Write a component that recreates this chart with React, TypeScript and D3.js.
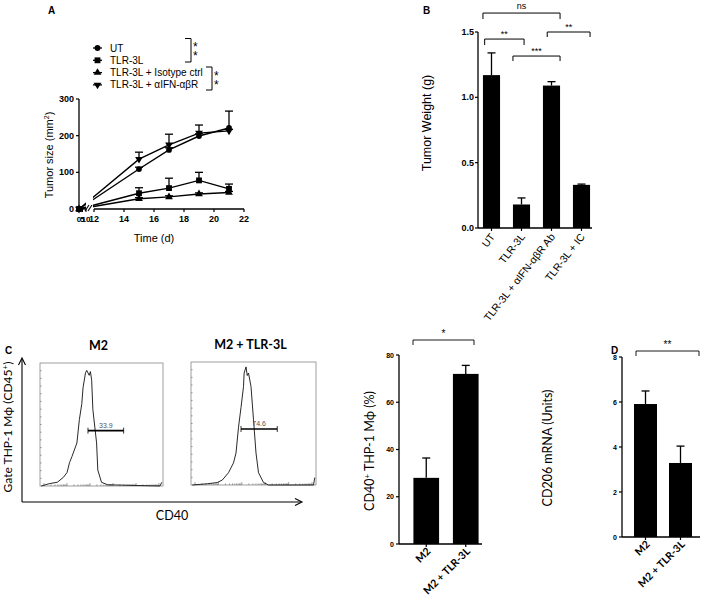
import React from 'react';
import * as d3 from 'd3';

// ---------- Panel A data ----------
const days = [0, 15, 17, 19, 21];
const utMean = [0, 109, 161, 199, 221];
const utErr = [0, 5, 6, 6, 46];
const tlrMean = [0, 43, 57, 78, 55];
const tlrErr = [0, 15, 27, 22, 13];
const isoMean = [0, 28, 33, 41, 45];
const isoErr = [0, 3, 3, 3, 3];
const ifnMean = [0, 136, 175, 207, 213];
const ifnErr = [0, 19, 29, 22, 4];
const seriesNames = ['UT', 'TLR-3L', 'TLR-3L + Isotype ctrl', 'TLR-3L + αIFN-αβR'];
const yTicksA = [0, 100, 200, 300];
const xTicksA1 = [0, 5, 10];
const xTicksA2 = [12, 14, 16, 18, 20, 22];

// ---------- Panel B data ----------
const catsB = ['UT', 'TLR-3L', 'TLR-3L + αIFN-αβR Ab', 'TLR-3L + IC'];
const weightB = [1.17, 0.18, 1.09, 0.33];
const errB = [0.17, 0.05, 0.03, 0.006];
const yTicksB = [0, 0.5, 1.0, 1.5];
const yTickLabelsB = ['0.0', '0.5', '1.0', '1.5'];

// ---------- Panel C histograms ----------
const histM2X = [0.01, 0.08, 0.14, 0.19, 0.22, 0.24, 0.26, 0.30, 0.32, 0.34, 0.35, 0.37, 0.38, 0.40, 0.41, 0.42, 0.43, 0.46, 0.47, 0.50, 0.55, 0.975, 0.99];
const histM2Y = [0, 0.02, 0.03, 0.07, 0.11, 0.19, 0.24, 0.35, 0.54, 0.67, 0.80, 0.92, 0.94, 0.90, 0.93, 0.86, 0.62, 0.35, 0.13, 0.03, 0.01, 0, 0.03];
const histTlrX = [0.01, 0.13, 0.21, 0.25, 0.30, 0.34, 0.36, 0.38, 0.40, 0.42, 0.425, 0.44, 0.45, 0.46, 0.48, 0.50, 0.52, 0.54, 0.58, 0.62, 0.98, 0.99];
const histTlrY = [0, 0.01, 0.02, 0.04, 0.10, 0.18, 0.26, 0.47, 0.63, 0.80, 0.91, 0.96, 0.89, 0.91, 0.80, 0.53, 0.26, 0.10, 0.02, 0, 0, 0.06];
const histTitles = ['M2', 'M2 + TLR-3L'];
const gateLabels = ['33.9', '74.6'];
const gateStart = [0.39, 0.40];
const gateEnd = [0.68, 0.69];
const gateLevel = [0.45, 0.455];

// ---------- Panel C bars ----------
const catsC = ['M2', 'M2 + TLR-3L'];
const cd40 = [28, 72];
const cd40Err = [8.4, 3.6];
const yTicksC = [0, 20, 40, 60, 80];

// ---------- Panel D bars ----------
const cd206 = [5.91, 3.29];
const cd206Err = [0.58, 0.75];
const yTicksD = [0, 2, 4, 6, 8];

const ARIAL = '"Liberation Sans", Arial, sans-serif';
const NARROW = '"Liberation Sans Narrow", "Liberation Sans", Arial, sans-serif';
const CAL = 'Lato, "Open Sans", sans-serif';

function Marker({ kind, x, y }: { kind: number; x: number; y: number }) {
  const types = [d3.symbolCircle, d3.symbolSquare, d3.symbolTriangle, d3.symbolTriangle];
  const sizes = [26, 34, 26, 26];
  const p = d3.symbol().type(types[kind]).size(sizes[kind])() || '';
  const rot = kind === 3 ? 180 : 0;
  return <path d={p} transform={`translate(${x},${y}) rotate(${rot})`} fill="#000" />;
}

function PanelA() {
  const y = d3.scaleLinear().domain([0, 300]).range([209, 99]);
  const xs1 = d3.scaleLinear().domain([0, 10]).range([79, 86]);
  const xs2 = d3.scaleLinear().domain([12, 22]).range([94, 244]);
  const x = (d: number) => (d <= 10 ? xs1(d) : xs2(d));
  const means = [utMean, tlrMean, isoMean, ifnMean];
  const errs = [utErr, tlrErr, isoErr, ifnErr];
  const line = d3.line<number>().x((_, i) => x(days[i])).y((v) => y(v));
  return (
    <g>
      <text x={48} y={14} fontFamily={ARIAL} fontWeight="bold" fontSize={10}>A</text>
      <defs>
        <clipPath id="clipA">
          <rect x={70} y={80} width={16} height={140} />
          <rect x={93} y={80} width={170} height={140} />
        </clipPath>
      </defs>
      {/* legend */}
      {seriesNames.map((n, i) => {
        const ly = 48 + i * 12.3;
        return (
          <g key={n}>
            <line x1={93} x2={102} y1={ly} y2={ly} stroke="#000" strokeWidth={1.3} />
            <Marker kind={i} x={97.5} y={ly} />
            <text x={110} y={ly + 3.5} fontFamily={ARIAL} fontSize={10}>{n}</text>
          </g>
        );
      })}
      <path d="M185,38.5 H191 V62 H185" fill="none" stroke="#000" strokeWidth={1} />
      <text fontFamily={ARIAL} fontSize={12}>
        <tspan x={193} y={51}>*</tspan>
        <tspan x={193} y={59.5}>*</tspan>
      </text>
      <path d="M206,67 H212 V90 H206" fill="none" stroke="#000" strokeWidth={1} />
      <text fontFamily={ARIAL} fontSize={12}>
        <tspan x={214} y={80}>*</tspan>
        <tspan x={214} y={88.5}>*</tspan>
      </text>
      {/* axes */}
      <line x1={79} x2={79} y1={99} y2={209} stroke="#000" strokeWidth={1.3} />
      {yTicksA.map((t) => (
        <g key={t}>
          <line x1={76} x2={79} y1={y(t)} y2={y(t)} stroke="#000" strokeWidth={1.2} />
          <text x={74} y={y(t) + 3} textAnchor="end" fontFamily={NARROW} fontWeight="bold" fontSize={9}>{t}</text>
        </g>
      ))}
      <line x1={79} x2={86} y1={209} y2={209} stroke="#000" strokeWidth={1.3} />
      <line x1={85} x2={89} y1={211} y2={205} stroke="#000" strokeWidth={1.1} />
      <line x1={88} x2={92} y1={211} y2={205} stroke="#000" strokeWidth={1.1} />
      <line x1={94} x2={244} y1={209} y2={209} stroke="#000" strokeWidth={1.3} />
      {xTicksA1.map((t) => (
        <line key={'a' + t} x1={xs1(t)} x2={xs1(t)} y1={209} y2={212} stroke="#000" strokeWidth={1} />
      ))}
      <text fontFamily={NARROW} fontWeight="bold" fontSize={8} textAnchor="middle">
        {xTicksA1.map((t) => (
          <tspan key={'t' + t} x={xs1(t)} y={222}>{t}</tspan>
        ))}
      </text>
      {xTicksA2.map((t) => (
        <g key={'b' + t}>
          <line x1={xs2(t)} x2={xs2(t)} y1={209} y2={212} stroke="#000" strokeWidth={1.2} />
          <text x={xs2(t)} y={222} textAnchor="middle" fontFamily={NARROW} fontWeight="bold" fontSize={9}>{t}</text>
        </g>
      ))}
      <text transform={`translate(53,155) rotate(-90)`} textAnchor="middle" fontFamily={ARIAL} fontSize={11}>
        Tumor size (mm<tspan dy={-4} fontSize={7}>2</tspan><tspan dy={4}>)</tspan>
      </text>
      <text x={154} y={242} textAnchor="middle" fontFamily={ARIAL} fontSize={11}>Time (d)</text>
      {/* error bars */}
      {means.map((m, si) =>
        m.map((v, i) =>
          errs[si][i] > 0 ? (
            <g key={`e${si}-${i}`}>
              <line x1={x(days[i])} x2={x(days[i])} y1={y(v)} y2={y(v + errs[si][i])} stroke="#000" strokeWidth={1.3} />
              <line x1={x(days[i]) - 4} x2={x(days[i]) + 4} y1={y(v + errs[si][i])} y2={y(v + errs[si][i])} stroke="#000" strokeWidth={1.3} />
            </g>
          ) : null
        )
      )}
      <g clipPath="url(#clipA)">
        {means.map((m, si) => (
          <path key={'l' + si} d={line(m) || ''} fill="none" stroke="#000" strokeWidth={1.4} />
        ))}
      </g>
      {means.map((m, si) => m.map((v, i) => <Marker key={`m${si}-${i}`} kind={si} x={x(days[i])} y={y(v)} />))}
    </g>
  );
}

function Bracket({ x1, x2, yy, leg, label, fs, dy }: { x1: number; x2: number; yy: number; leg: number; label: string; fs: number; dy: number }) {
  return (
    <g>
      <path d={`M${x1},${yy + leg} V${yy} H${x2} V${yy + leg}`} fill="none" stroke="#000" strokeWidth={1} />
      <text x={(x1 + x2) / 2} y={yy - dy} textAnchor="middle" fontFamily={ARIAL} fontSize={fs}>{label}</text>
    </g>
  );
}

function PanelB() {
  const y = d3.scaleLinear().domain([0, 1.5]).range([228, 32]);
  const x = d3.scaleBand<string>().domain(catsB).range([476.5, 596.5]).paddingInner(0.43).paddingOuter(0.215);
  const bw = x.bandwidth();
  const bx = (c: string, f: number) => (x(c) as number) + f * bw;
  return (
    <g>
      <text x={423} y={14} fontFamily={ARIAL} fontWeight="bold" fontSize={10}>B</text>
      <Bracket x1={bx(catsB[0], 0)} x2={bx(catsB[2], 1)} yy={y(1.645)} leg={6} label="ns" fs={9} dy={4} />
      <Bracket x1={bx(catsB[0], 0.1)} x2={bx(catsB[1], 0.65)} yy={y(1.446)} leg={6} label="**" fs={9} dy={2} />
      <Bracket x1={bx(catsB[1], 0)} x2={bx(catsB[2], 1)} yy={y(1.316)} leg={5} label="***" fs={9} dy={2} />
      <Bracket x1={bx(catsB[2], 0.25)} x2={bx(catsB[3], 1)} yy={y(1.5)} leg={5} label="**" fs={9} dy={2} />
      {catsB.map((c, i) => (
        <g key={c}>
          <rect x={x(c)} y={y(weightB[i])} width={bw} height={y(0) - y(weightB[i])} fill="#000" />
          <line x1={bx(c, 0.5)} x2={bx(c, 0.5)} y1={y(weightB[i])} y2={y(weightB[i] + errB[i])} stroke="#000" strokeWidth={1.3} />
          <line x1={bx(c, 0.5) - 4} x2={bx(c, 0.5) + 4} y1={y(weightB[i] + errB[i])} y2={y(weightB[i] + errB[i])} stroke="#000" strokeWidth={1.3} />
          <line x1={bx(c, 0.5)} x2={bx(c, 0.5)} y1={228} y2={231} stroke="#000" strokeWidth={1.2} />
          <text transform={`translate(${bx(c, 0.5) + 4},${237}) rotate(-52)`} textAnchor="end" fontFamily={ARIAL} fontSize={10.5}>{c}</text>
        </g>
      ))}
      <line x1={478} x2={478} y1={32} y2={228} stroke="#000" strokeWidth={1.3} />
      <line x1={478} x2={592} y1={228} y2={228} stroke="#000" strokeWidth={1.3} />
      {yTicksB.map((t, i) => (
        <g key={t}>
          <line x1={475} x2={478} y1={y(t)} y2={y(t)} stroke="#000" strokeWidth={1.2} />
          <text x={474} y={y(t) + 3} textAnchor="end" fontFamily={NARROW} fontWeight="bold" fontSize={9}>{yTickLabelsB[i]}</text>
        </g>
      ))}
      <text transform={`translate(431,123) rotate(-90)`} textAnchor="middle" fontFamily={ARIAL} fontSize={12.5}>Tumor Weight (g)</text>
    </g>
  );
}

function Histo({ x0, top, w, h, xs, ys, title, gi }: { x0: number; top: number; w: number; h: number; xs: number[]; ys: number[]; title: string; gi: number }) {
  const sx = d3.scaleLinear().domain([0, 1]).range([x0, x0 + w]);
  const sy = d3.scaleLinear().domain([0, 1]).range([top + h, top]);
  const line = d3.line<number>().x((v) => sx(v)).y((_, i) => sy(ys[i]));
  const logS = d3.scaleLog().domain([1, 100000]).range([x0 + 4, x0 + w - 4]);
  const lt = logS.ticks();
  const leftT = d3.range(1, 16);
  return (
    <g>
      <text x={x0 + w / 2 - 3} y={top - 13} textAnchor="middle" fontFamily={CAL} fontWeight="bold" fontSize={12.5}>{title}</text>
      <rect x={x0} y={top} width={w} height={h} fill="none" stroke="#888" strokeWidth={0.8} />
      {lt.map((t, i) => {
        const major = Math.abs(Math.log10(t) - Math.round(Math.log10(t))) < 1e-6;
        return <line key={i} x1={logS(t)} x2={logS(t)} y1={top + h} y2={top + h - (major ? 3 : 1.6)} stroke="#666" strokeWidth={0.6} />;
      })}
      {leftT.map((k) => (
        <line key={k} x1={x0} x2={x0 + 1.6} y1={top + h - (k * h) / 16} y2={top + h - (k * h) / 16} stroke="#666" strokeWidth={0.6} />
      ))}
      <path d={line(xs) || ''} fill="none" stroke="#111" strokeWidth={0.9} />
      <line x1={sx(gateStart[gi])} x2={sx(gateEnd[gi])} y1={sy(gateLevel[gi])} y2={sy(gateLevel[gi])} stroke="#000" strokeWidth={1.6} />
      <line x1={sx(gateStart[gi])} x2={sx(gateStart[gi])} y1={sy(gateLevel[gi]) - 3} y2={sy(gateLevel[gi]) + 3} stroke="#000" strokeWidth={0.8} />
      <line x1={sx(gateEnd[gi])} x2={sx(gateEnd[gi])} y1={sy(gateLevel[gi]) - 3} y2={sy(gateLevel[gi]) + 3} stroke="#000" strokeWidth={0.8} />
      <text x={(sx(gateStart[gi]) + sx(gateEnd[gi])) / 2} y={sy(gateLevel[gi]) - 3} textAnchor="middle" fontFamily={ARIAL} fontSize={7} fill="#555">{gateLabels[gi]}</text>
    </g>
  );
}

function PanelC() {
  return (
    <g>
      <text x={5} y={354} fontFamily={ARIAL} fontWeight="bold" fontSize={10}>C</text>
      <Histo x0={40} top={363} w={123} h={123} xs={histM2X} ys={histM2Y} title={histTitles[0]} gi={0} />
      <Histo x0={191} top={362} w={125} h={123} xs={histTlrX} ys={histTlrY} title={histTitles[1]} gi={1} />
      <line x1={22} x2={22} y1={502} y2={359} stroke="#000" strokeWidth={1.1} />
      <path d="M18.5,365 L22,358 L25.5,365" fill="none" stroke="#000" strokeWidth={1.1} />
      <line x1={22} x2={301} y1={502} y2={502} stroke="#000" strokeWidth={1.1} />
      <path d="M295,498.5 L302,502 L295,505.5" fill="none" stroke="#000" strokeWidth={1.1} />
      <text transform={`translate(12,427) rotate(-90)`} textAnchor="middle" fontFamily={CAL} fontSize={12}>
        Gate THP-1 Mϕ (CD45<tspan dy={-4} fontSize={8}>+</tspan><tspan dy={4}>)</tspan>
      </text>
      <text x={172} y={520} textAnchor="middle" fontFamily={CAL} fontSize={12.5}>CD40</text>
    </g>
  );
}

function BarPanel({ vals, errs, ticks, yDom, yRange, xRange, axisX, axisEnd, title, titleX, titleY, star, brX, brY, pad }: any) {
  const y = d3.scaleLinear().domain(yDom).range(yRange);
  const x = d3.scaleBand<string>().domain(catsC).range(xRange).paddingInner(pad).paddingOuter(pad / 2);
  const bw = x.bandwidth();
  const y0 = yRange[0];
  return (
    <g>
      <path d={`M${brX[0]},${brY + 5} V${brY} H${brX[1]} V${brY + 5}`} fill="none" stroke="#000" strokeWidth={0.9} />
      <text x={(brX[0] + brX[1]) / 2} y={brY - 3} textAnchor="middle" fontFamily={ARIAL} fontSize={10}>{star}</text>
      {catsC.map((c, i) => {
        const cx = (x(c) as number) + bw / 2;
        return (
          <g key={c}>
            <rect x={x(c)} y={y(vals[i])} width={bw} height={y0 - y(vals[i])} fill="#000" />
            <line x1={cx} x2={cx} y1={y(vals[i])} y2={y(vals[i] + errs[i])} stroke="#000" strokeWidth={1.3} />
            <line x1={cx - 4} x2={cx + 4} y1={y(vals[i] + errs[i])} y2={y(vals[i] + errs[i])} stroke="#000" strokeWidth={1.3} />
            <line x1={cx} x2={cx} y1={y0} y2={y0 + 3} stroke="#000" strokeWidth={1.2} />
            <text transform={`translate(${cx + 5},${y0 + 8}) rotate(-45)`} textAnchor="end" fontFamily={CAL} fontWeight="bold" fontSize={10.5}>{c}</text>
          </g>
        );
      })}
      <line x1={axisX} x2={axisX} y1={yRange[1]} y2={y0} stroke="#000" strokeWidth={1.3} />
      <line x1={axisX} x2={axisEnd} y1={y0} y2={y0} stroke="#000" strokeWidth={1.3} />
      {ticks.map((t: number) => (
        <g key={t}>
          <line x1={axisX - 3} x2={axisX} y1={y(t)} y2={y(t)} stroke="#000" strokeWidth={1.2} />
          <text x={axisX - 5} y={y(t) + 2.5} textAnchor="end" fontFamily={NARROW} fontWeight="bold" fontSize={7}>{t}</text>
        </g>
      ))}
      <text transform={`translate(${titleX},${titleY}) rotate(-90)`} textAnchor="middle" fontFamily={CAL} fontSize={12.5}>{title}</text>
    </g>
  );
}

export default function App() {
  return (
    <svg width={708} height={609} style={{ position: 'absolute', left: 0, top: 0, background: '#fff' }}>
      <rect width={708} height={609} fill="#fff" />
      <PanelA />
      <PanelB />
      <PanelC />
      <BarPanel
        vals={cd40}
        errs={cd40Err}
        ticks={yTicksC}
        yDom={[0, 80]}
        yRange={[544, 355]}
        xRange={[406.5, 485.5]}
        pad={0.35}
        axisX={399}
        axisEnd={482}
        title={<>CD40<tspan dy={-4} fontSize={8}>+</tspan><tspan dy={4}> THP-1 Mϕ (%)</tspan></>}
        titleX={374}
        titleY={451}
        star="*"
        brX={[413, 474]}
        brY={340}
      />
      <text x={611} y={354} fontFamily={ARIAL} fontWeight="bold" fontSize={10}>D</text>
      <BarPanel
        vals={cd206}
        errs={cd206Err}
        ticks={yTicksD}
        yDom={[0, 8]}
        yRange={[537, 357]}
        xRange={[628, 698]}
        pad={0.343}
        axisX={622}
        axisEnd={700}
        title="CD206 mRNA (Units)"
        titleX={552}
        titleY={448}
        star="**"
        brX={[636, 699]}
        brY={351}
      />
    </svg>
  );
}
